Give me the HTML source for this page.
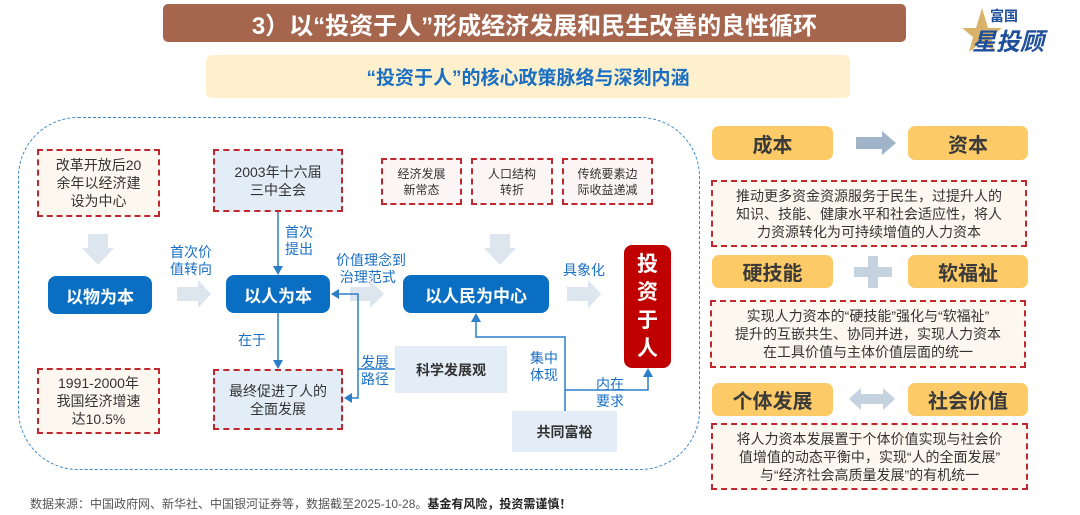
<!DOCTYPE html>
<html><head><meta charset="utf-8"><style>
*{margin:0;padding:0;box-sizing:border-box}
body{width:1080px;height:515px;background:#fff;position:relative;overflow:hidden;font-family:"Liberation Sans","Noto Sans CJK SC",sans-serif;color:#333}
.a{position:absolute}
.c{display:flex;align-items:center;justify-content:center;text-align:center}
.rd{border:2px dashed #c0282d;border-style:dashed}
.blue{background:#0a6fc2;color:#fff;font-weight:bold;font-size:17px;border-radius:8px}
.lbl{color:#1a6fc4;font-size:14px;line-height:17px}
.y{background:#fccb67;border-radius:7px;font-weight:bold;font-size:20px;color:#3a3a3a}
.rt{background:#fdf8ef;border:2px dashed #c0282d;font-size:14px;line-height:18px;color:#333}
</style></head><body>
<div class="a c" style="left:163px;top:4px;width:743px;height:38px;background:#a6664e;border-radius:5px;color:#fff;font-size:24px;font-weight:bold">3）以“投资于人”形成经济发展和民生改善的良性循环</div>
<div class="a" style="left:962px;top:6px;width:110px;height:46px">
<svg width="110" height="46"><polygon points="20,2 26,22 40,22 29,31 33,46 20,36 7,46 11,31 0,22 14,22" fill="#d9b36a"/></svg>
<div class="a" style="left:28px;top:0;font-size:14px;font-weight:bold;color:#1f4e9a">富国</div>
<div class="a" style="left:10px;top:16px;font-size:24px;font-weight:bold;font-style:italic;color:#1f4e9a">星投顾</div></div>
<div class="a c" style="left:206px;top:55px;width:644px;height:43px;background:#fef0cc;border-radius:6px;color:#1a6fc4;font-size:19px;font-weight:bold">“投资于人”的核心政策脉络与深刻内涵</div>

<div class="a" style="left:18px;top:117px;width:682px;height:353px;border:1.5px dashed #3a86c8;border-radius:60px"></div>

<div class="a c rt" style="left:37px;top:149px;width:123px;height:68px;font-size:14px">改革开放后20<br>余年以经济建<br>设为中心</div>
<div class="a c rt" style="left:37px;top:368px;width:123px;height:66px">1991-2000年<br>我国经济增速<br>达10.5%</div>
<div class="a c blue" style="left:48px;top:276px;width:104px;height:38px">以物为本</div>

<div class="a c rt" style="left:213px;top:149px;width:130px;height:63px;background:#e3edf7">2003年十六届<br>三中全会</div>
<div class="a c blue" style="left:226px;top:275px;width:104px;height:38px">以人为本</div>
<div class="a c rt" style="left:213px;top:369px;width:130px;height:61px;background:#e3edf7">最终促进了人的<br>全面发展</div>

<div class="a c rt" style="left:381px;top:158px;width:81px;height:47px;font-size:12px;line-height:16px;background:#fbf5f5">经济发展<br>新常态</div>
<div class="a c rt" style="left:471px;top:158px;width:82px;height:47px;font-size:12px;line-height:16px;background:#fbf5f5">人口结构<br>转折</div>
<div class="a c rt" style="left:562px;top:158px;width:91px;height:47px;font-size:12px;line-height:16px;background:#fbf5f5">传统要素边<br>际收益递减</div>
<div class="a c blue" style="left:403px;top:275px;width:146px;height:38px">以人民为中心</div>
<div class="a c" style="left:624px;top:245px;width:47px;height:123px;background:#c00000;border-radius:8px;color:#fff;font-size:21px;font-weight:bold;line-height:28px">投<br>资<br>于<br>人</div>
<div class="a c" style="left:395px;top:346px;width:112px;height:47px;background:#e3edf7;font-weight:bold;font-size:14px">科学发展观</div>
<div class="a c" style="left:512px;top:411px;width:105px;height:41px;background:#e3edf7;font-weight:bold;font-size:14px">共同富裕</div>

<div class="a lbl" style="left:170px;top:244px">首次价<br>值转向</div>
<div class="a lbl" style="left:285px;top:224px">首次<br>提出</div>
<div class="a lbl" style="left:238px;top:332px">在于</div>
<div class="a lbl" style="left:336px;top:252px">价值理念到<br>&nbsp;治理范式</div>
<div class="a lbl" style="left:361px;top:354px">发展<br>路径</div>
<div class="a lbl" style="left:530px;top:350px">集中<br>体现</div>
<div class="a lbl" style="left:596px;top:376px">内在<br>要求</div>
<div class="a lbl" style="left:563px;top:262px">具象化</div>

<svg class="a" style="left:0;top:0" width="1080" height="515">
<g fill="#dde5ee">
<polygon points="88,234 108,234 108,248 114,248 98,265 82,248 88,248"/>
<polygon points="490,234 510,234 510,248 516,248 500,265 484,248 490,248"/>
<polygon points="177,287 198,287 198,280 211,294 198,308 198,301 177,301"/>
<polygon points="350,287 370,287 370,280 384,294 370,308 370,301 350,301"/>
<polygon points="567,287 588,287 588,280 601,294 588,308 588,301 567,301"/>
</g>
<g stroke="#2a7fc8" stroke-width="1.5" fill="none">
<path d="M278,212V268"/><path d="M278,313V362"/>
<path d="M336,294H358V398H350"/><path d="M358,369H395"/>
<path d="M565,411V337H476V320"/><path d="M565,390H648V375"/>
</g>
<g fill="#2a7fc8">
<polygon points="273,266 283,266 278,275"/><polygon points="273,360 283,360 278,369"/>
<polygon points="331,294 339,289 339,299"/><polygon points="344,398 352,393 352,403"/>
<polygon points="471,322 481,322 476,313"/><polygon points="643,377 653,377 648,368"/>
</g>
<polygon points="856,137 882,137 882,131 896,143 882,155 882,149 856,149" fill="#9fb3c9"/>
<rect x="854" y="267" width="38" height="10" fill="#c5d2e0"/><rect x="868" y="256" width="10" height="32" fill="#c5d2e0"/>
<polygon points="849,399 861,388 861,394 883,394 883,388 895,399 883,410 883,404 861,404 861,410" fill="#c5d2e0"/>
</svg>

<div class="a c y" style="left:712px;top:126px;width:121px;height:34px">成本</div>
<div class="a c y" style="left:908px;top:126px;width:120px;height:34px">资本</div>
<div class="a c rt" style="left:711px;top:180px;width:316px;height:67px">推动更多资金资源服务于民生，过提升人的<br>知识、技能、健康水平和社会适应性，将人<br>力资源转化为可持续增值的人力资本</div>
<div class="a c y" style="left:712px;top:255px;width:121px;height:33px">硬技能</div>
<div class="a c y" style="left:908px;top:255px;width:120px;height:33px">软福祉</div>
<div class="a c rt" style="left:710px;top:300px;width:316px;height:68px">实现人力资本的“硬技能”强化与“软福祉”<br>提升的互嵌共生、协同并进，实现人力资本<br>在工具价值与主体价值层面的统一</div>
<div class="a c y" style="left:712px;top:383px;width:121px;height:33px">个体发展</div>
<div class="a c y" style="left:908px;top:383px;width:120px;height:33px">社会价值</div>
<div class="a c rt" style="left:711px;top:423px;width:317px;height:67px">将人力资本发展置于个体价值实现与社会价<br>值增值的动态平衡中，实现“人的全面发展”<br>与“经济社会高质量发展”的有机统一</div>

<div class="a" style="left:30px;top:495px;font-size:12px;color:#555">数据来源：中国政府网、新华社、中国银河证券等，数据截至2025-10-28。<b style="color:#222">基金有风险，投资需谨慎！</b></div>
</body></html>
